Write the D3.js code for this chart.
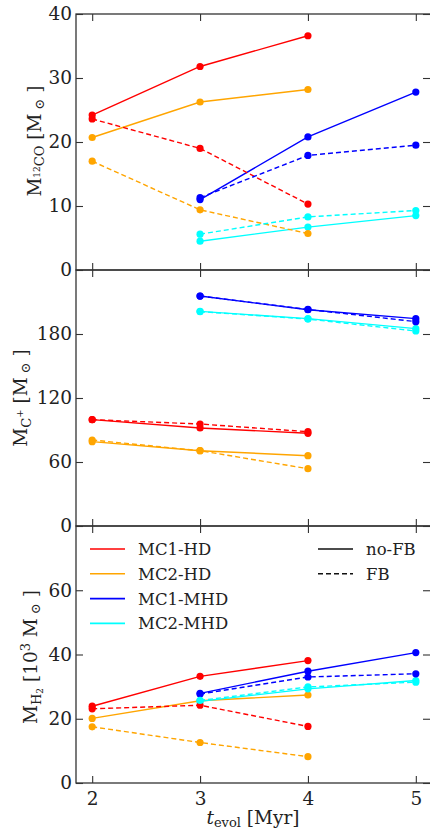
<!DOCTYPE html>
<html><head><meta charset="utf-8">
<script src="https://cdn.jsdelivr.net/npm/d3@7"></script>
<style>body{margin:0;background:#fff}svg{display:block}text{font-family:"DejaVu Serif",serif;fill:#222}</style>
</head><body><svg id="c" width="430" height="831"></svg>
<script>
const times = [2, 3, 4, 5];
const seriesNames = ["MC1-HD", "MC2-HD", "MC1-MHD", "MC2-MHD"];
const seriesColors = ["#ff0000", "#ffa500", "#0000ff", "#00ffff"];
const fbNames = ["no-FB", "FB"];
const co_noFB  = [[24.2,31.8,36.6,null],[20.7,26.25,28.2,null],[null,11.0,20.8,27.8],[null,4.5,6.7,8.5]];
const co_FB    = [[23.6,19.0,10.3,null],[17.0,9.4,5.7,null],[null,11.3,17.9,19.5],[null,5.6,8.3,9.3]];
const cp_noFB  = [[99.7,91.9,86.9,null],[79.1,70.6,65.9,null],[null,215.6,202.8,194.4],[null,201.2,194.4,185.0]];
const cp_FB    = [[99.7,95.6,88.4,null],[80.6,70.6,53.7,null],[null,215.6,203.0,191.6],[null,201.0,194.0,182.8]];
const h2_noFB  = [[23.9,33.2,38.1,null],[20.1,25.6,27.4,null],[null,27.9,34.8,40.6],[null,25.4,29.3,31.9]];
const h2_FB    = [[23.1,24.2,17.6,null],[17.5,12.6,8.2,null],[null,27.7,33.0,34.0],[null,25.7,29.9,31.4]];
const coTicks = [0,10,20,30,40];
const cpTicks = [0,60,120,180];
const h2Ticks = [0,20,40,60];
const xTicks = [2,3,4,5];

const svg = d3.select("#c");
const L = 76, R = 432;
const x = d3.scaleLinear().domain([1.85, 5.15]).range([L, R]);

const panels = [
  {top:14, bot:270, dom:[0,40], ticks:coTicks, data:[co_noFB, co_FB]},
  {top:270, bot:526, dom:[0,240], ticks:cpTicks, data:[cp_noFB, cp_FB]},
  {top:526, bot:783, dom:[0,80], ticks:h2Ticks, data:[h2_noFB, h2_FB]},
];
const axisColor = "#333";

panels.forEach((p, pi) => {
  const y = d3.scaleLinear().domain(p.dom).range([p.bot, p.top]);
  const g = svg.append("g");
  g.append("rect").attr("x", L).attr("y", p.top).attr("width", R - L).attr("height", p.bot - p.top)
    .attr("fill", "none").attr("stroke", axisColor).attr("stroke-width", 1.3);
  const ya = d3.axisLeft(y).tickValues(p.ticks).tickSize(-7).tickPadding(4).tickFormat(d3.format("d"));
  const yg = g.append("g").attr("transform", `translate(${L},0)`).call(ya);
  yg.selectAll(".tick text").attr("x", -4);
  const yr = d3.axisRight(y).tickValues(p.ticks).tickSize(-7).tickFormat("");
  const yrg = g.append("g").attr("transform", `translate(${R - 2},0)`).call(yr);
  const xb = d3.axisBottom(x).tickValues(xTicks).tickSize(-7).tickPadding(9).tickFormat(pi === 2 ? d3.format("d") : "");
  const xbg = g.append("g").attr("transform", `translate(0,${p.bot})`).call(xb);
  const xt = d3.axisTop(x).tickValues(xTicks).tickSize(-7).tickFormat("");
  const xtg = g.append("g").attr("transform", `translate(0,${p.top})`).call(xt);
  [yg, yrg, xbg, xtg].forEach(a => {
    a.select(".domain").remove();
    a.selectAll(".tick line").attr("stroke", axisColor).attr("stroke-width", 1.1);
    a.selectAll(".tick text").attr("font-family", "DejaVu Serif").attr("font-size", 18.5).attr("fill", "#222");
  });
  const line = d3.line().defined(d => d.v !== null).x(d => x(d.t)).y(d => y(d.v));
  p.data.forEach((set, fi) => {
    set.forEach((vals, si) => {
      const pts = vals.map((v, i) => ({t: times[i], v}));
      g.append("path").datum(pts).attr("d", line).attr("fill", "none")
        .attr("stroke", seriesColors[si]).attr("stroke-width", 1.4)
        .attr("stroke-dasharray", fi === 1 ? "5,3" : null);
      g.selectAll(null).data(pts.filter(d => d.v !== null)).enter().append("circle")
        .attr("cx", d => x(d.t)).attr("cy", d => y(d.v)).attr("r", 3.6).attr("fill", seriesColors[si]);
    });
  });
});

// legend
const lg = svg.append("g");
seriesNames.forEach((n, i) => {
  const yy = 549 + i * 24.8;
  lg.append("line").attr("x1", 90).attr("x2", 125).attr("y1", yy).attr("y2", yy)
    .attr("stroke", seriesColors[i]).attr("stroke-width", 1.6);
  lg.append("text").attr("x", 138).attr("y", yy + 6).attr("font-size", 16.5).text(n);
});
fbNames.forEach((n, i) => {
  const yy = 549 + i * 24.8;
  lg.append("line").attr("x1", 318).attr("x2", 353).attr("y1", yy).attr("y2", yy)
    .attr("stroke", "#111").attr("stroke-width", 1.6).attr("stroke-dasharray", i === 1 ? "5,3" : null);
  lg.append("text").attr("x", 366).attr("y", yy + 6).attr("font-size", 16.5).text(n);
});

function ylab(cx, cy, parts) {
  const t = svg.append("text").attr("transform", `translate(${cx},${cy}) rotate(-90)`)
    .attr("text-anchor", "middle").attr("font-size", 18.5);
  parts.forEach(p => {
    const s = t.append("tspan").text(p[0]);
    if (p[1]) s.attr("font-size", p[1]);
    if (p[2]) s.attr("dy", p[2]);
  });
}
ylab(41, 141, [["M"], ["12", 9, -1], ["CO", 13, 4], [" [M", null, -3], [" \u2299", 13, 3], [" ]", null, -3]]);
ylab(27, 398, [["M"], ["C", 13, 4], ["+", 10, -8], [" [M", null, 4], [" \u2299", 13, 3], [" ]", null, -3]]);
ylab(37, 657, [["M"], ["H", 13, 4], ["2", 9, 2], [" [10", null, -6], ["3", 13, -7], [" M", null, 7], [" \u2299", 13, 3], [" ]", null, -3]]);

const xl = svg.append("text").attr("x", 253).attr("y", 824).attr("text-anchor", "middle").attr("font-size", 18.5);
xl.append("tspan").attr("font-style", "italic").text("t");
xl.append("tspan").attr("font-size", 13).attr("dy", 3).text("evol");
xl.append("tspan").attr("dy", -3).text(" [Myr]");
</script></body></html>
